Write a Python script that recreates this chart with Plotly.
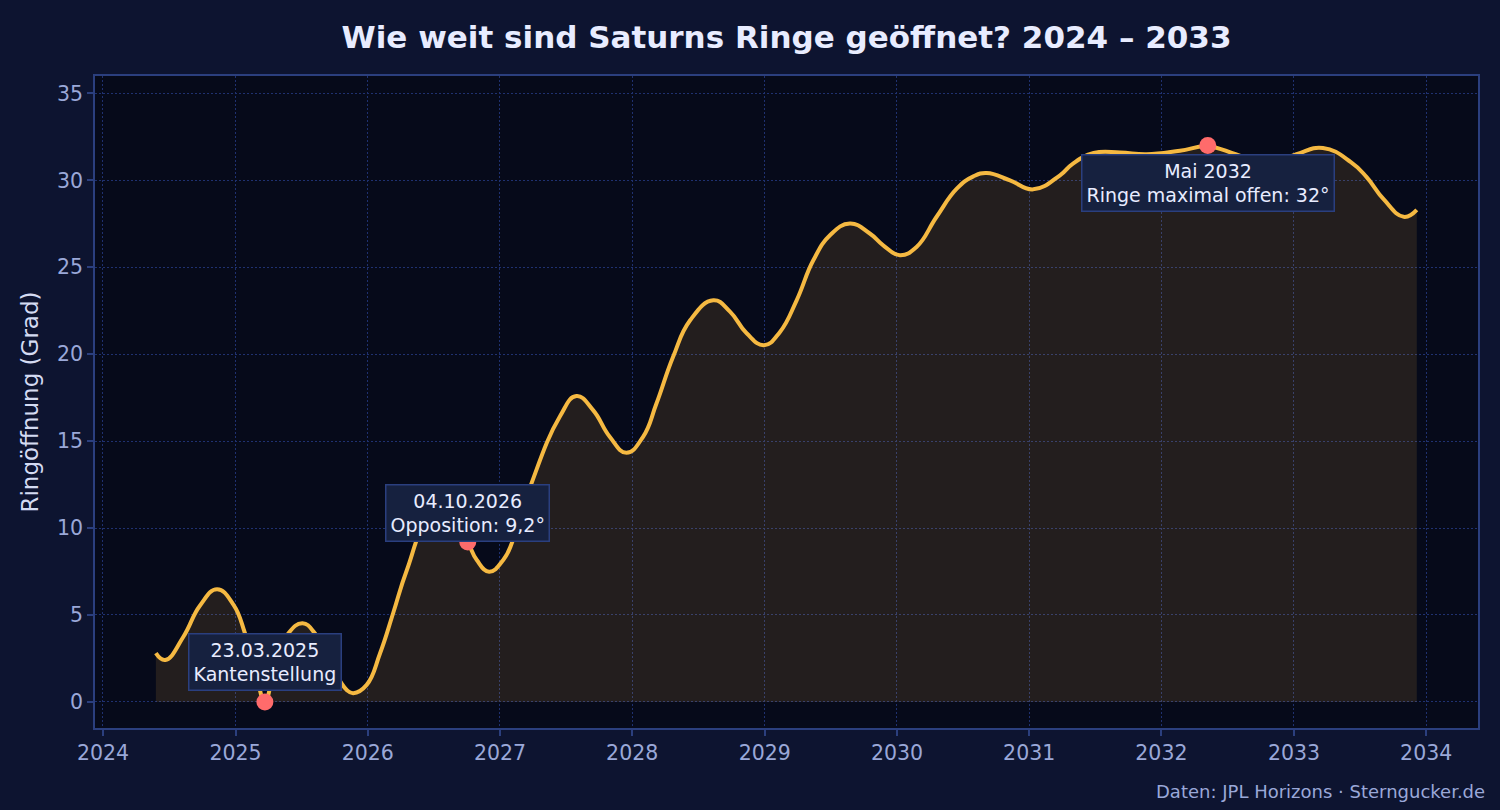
# Saturn ring opening angle 2024-2033
import plotly.graph_objects as go

dates = ['2024-05-26', '2024-06-21', '2024-08-10', '2024-09-25', '2024-11-11',
         '2024-12-26', '2025-01-27', '2025-02-24', '2025-03-23', '2025-04-20',
         '2025-05-27', '2025-07-05', '2025-08-08', '2025-09-20', '2025-11-04',
         '2025-11-22', '2025-12-29', '2026-02-04', '2026-03-12', '2026-04-19',
         '2026-06-14', '2026-07-28', '2026-09-02', '2026-10-04', '2026-10-29',
         '2026-12-02', '2027-01-10', '2027-02-06', '2027-03-26', '2027-06-15',
         '2027-07-31', '2027-09-15', '2027-10-31', '2027-12-16', '2028-01-31',
         '2028-03-08', '2028-04-23', '2028-06-09', '2028-08-12', '2028-09-27',
         '2028-11-12', '2028-12-30', '2029-02-12', '2029-03-30', '2029-05-15',
         '2029-06-30', '2029-08-24', '2029-10-18', '2029-11-24', '2030-01-09',
         '2030-02-24', '2030-04-20', '2030-06-15', '2030-07-31', '2030-09-06',
         '2030-11-09', '2031-01-12', '2031-03-27', '2031-05-01', '2031-06-28',
         '2031-09-09', '2031-11-21', '2032-02-21', '2032-05-08', '2032-07-24',
         '2032-10-19', '2033-01-08', '2033-03-22', '2033-06-07', '2033-07-20',
         '2033-09-06', '2033-10-31', '2033-12-06']
opening = [2.8, 2.41, 3.75, 5.55, 6.48,
           5.6, 3.95, 1.9, 0.05, 2.1,
           3.95, 4.52, 3.95, 2.2, 0.69,
           0.5, 0.98, 2.8, 5.1, 7.59,
           10.35, 10.75, 10.2, 9.18, 8.16,
           7.49, 8.16, 9.31, 12.4, 16.4,
           17.59, 16.78, 15.25, 14.33, 15.25,
           17.16, 19.85, 21.95, 23.1, 22.45,
           21.2, 20.52, 21.28, 23.1, 25.4,
           26.84, 27.51, 26.94, 26.26, 25.69,
           26.17, 27.89, 29.52, 30.23, 30.42,
           30.0, 29.48, 30.29, 30.95, 31.57,
           31.6, 31.5, 31.7, 31.95, 31.5,
           30.9, 31.5, 31.86, 31.05, 30.2,
           28.9, 27.9, 28.3]

event_dates = ['2025-03-23', '2026-10-04', '2032-05-08']
event_values = [0, 9.2, 32.0]
event_labels = ['23.03.2025<br>Kantenstellung',
                '04.10.2026<br>Opposition: 9,2°',
                'Mai 2032<br>Ringe maximal offen: 32°']
label_shift = [40, 29, -37]

FONT = 'DejaVu Sans'
GRID = '#1f3170'
FRAME = '#2b3f7e'
TICK = '#9aa8d8'
DOTS = '1.5px,2.5px'

fig = go.Figure()

fig.add_trace(go.Scatter(x=dates, y=opening, mode='lines',
                         line=dict(color='#f5b942', width=4, shape='spline', smoothing=1.3),
                         fill='tozeroy', fillcolor='rgba(245,185,66,0.12)',
                         showlegend=False))

fig.add_trace(go.Scatter(x=event_dates, y=event_values, mode='markers',
                         marker=dict(color='#ff6b6b', size=17),
                         showlegend=False))

for d, v, t, s in zip(event_dates, event_values, event_labels, label_shift):
    fig.add_annotation(x=d, y=v, text=t, showarrow=False, yshift=s,
                       font=dict(family=FONT, size=19, color='#e8ecff'),
                       bgcolor='#16213f', bordercolor='#2a3f7f', borderwidth=1.5,
                       borderpad=4)

fig.add_annotation(x=1.0065, y=-0.098, xref='paper', yref='paper',
                   xanchor='right', yanchor='middle', showarrow=False,
                   text='Daten: JPL Horizons · Sterngucker.de',
                   font=dict(family=FONT, size=18, color=TICK))

fig.update_layout(
    title=dict(text='<b>Wie weit sind Saturns Ringe geöffnet? 2024 – 2033</b>',
               x=0.5, xref='paper', y=1 - 37 / 810, yref='container',
               xanchor='center', yanchor='middle',
               font=dict(family=FONT, size=31, color='#e8ecff')),
    paper_bgcolor='#0d1430',
    plot_bgcolor='#060a1a',
    width=1500, height=810,
    margin=dict(l=95, r=22, t=76, b=82),
    font=dict(family=FONT, color=TICK),
)

fig.update_xaxes(type='date', range=['2023-12-10', '2034-05-24'],
                 dtick='M12', tick0='2024-01-01', tickformat='%Y',
                 showgrid=True, gridcolor=GRID, griddash=DOTS, gridwidth=1,
                 showline=True, linecolor=FRAME, linewidth=1.5, mirror=True,
                 ticks='outside', ticklen=6, tickcolor=FRAME, tickwidth=1.5,
                 tickfont=dict(family=FONT, size=20.5, color=TICK),
                 zeroline=False)

fig.update_yaxes(range=[-1.5, 36], tick0=0, dtick=5,
                 showgrid=True, gridcolor=GRID, griddash=DOTS, gridwidth=1,
                 showline=True, linecolor=FRAME, linewidth=1.5, mirror=True,
                 ticks='outside', ticklen=6, tickcolor=FRAME, tickwidth=1.5,
                 tickfont=dict(family=FONT, size=20.5, color=TICK),
                 title=dict(text='Ringöffnung (Grad)', standoff=12,
                            font=dict(family=FONT, size=23, color='#d4dbf2')),
                 zeroline=False)

fig.write_html('out.html', config={'displayModeBar': False},
               post_script="document.body.style.margin='0';")
